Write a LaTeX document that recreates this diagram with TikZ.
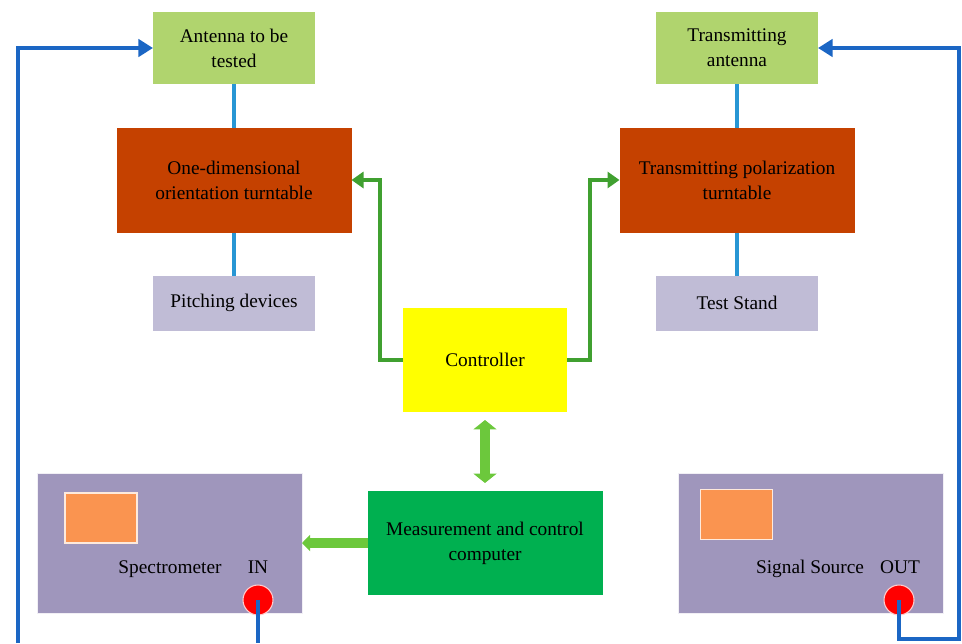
\documentclass[tikz,border=0pt]{standalone}
\usepackage{fontspec}
\setmainfont{Liberation Serif}
\usetikzlibrary{arrows.meta, positioning}
\definecolor{antgreen}{RGB}{176, 212, 110}
\definecolor{turnred}{RGB}{197, 65, 0}
\definecolor{standgrey}{RGB}{192, 188, 214}
\definecolor{compgreen}{RGB}{0, 176, 80}
\definecolor{instgrey}{RGB}{159, 150, 188}
\definecolor{screenorange}{RGB}{250, 148, 80}
\definecolor{feedblue}{RGB}{27, 102, 196}
\definecolor{linkblue}{RGB}{40, 150, 212}
\definecolor{ctrlgreen}{RGB}{64, 160, 48}
\definecolor{blockgreen}{RGB}{108, 200, 60}
\definecolor{ctrlyellow}{RGB}{255, 255, 0}

\begin{document}
\begin{tikzpicture}[
  x=0.75pt, y=-0.75pt,
  every node/.style={inner sep=0pt, outer sep=0pt, font=\fontsize{14.5}{18.8}\selectfont, align=center},
  antbox/.style={fill=antgreen, minimum width=121.5pt, minimum height=54pt},
  turnbox/.style={fill=turnred, minimum width=176.25pt, minimum height=78.75pt},
  standbox/.style={fill=standgrey, minimum width=121.5pt, minimum height=41.25pt},
  instbox/.style={fill=instgrey, draw=white!85!instgrey, minimum width=198.75pt, minimum height=105pt},
  screen/.style={fill=screenorange, draw=white!80!screenorange, line width=0.8pt, minimum width=54pt, minimum height=37.5pt},
  port/.style={circle, fill=red, draw=white!80!red, line width=0.8pt, minimum size=22.5pt},
  link/.style={draw=linkblue, line width=3pt},
  feed/.style={draw=feedblue, line width=3pt, -{Triangle[length=11pt, width=13pt]}},
  ctrlarrow/.style={draw=ctrlgreen, line width=2.8pt, -{Triangle[length=9pt, width=12pt]}},
  blockarrow/.style={draw=blockgreen, line width=8pt}
]
  \useasboundingbox (0,0) rectangle (962,643);

  % receiving side
  \node[antbox] (aut) at (234, 48) {Antenna to be\\tested};
  \node[turnbox] (turn) at (234, 180) {One-dimensional\\orientation turntable};
  \node[standbox] (pitch) at (234, 303) {Pitching devices};

  % transmitting side
  \node[antbox] (txant) at (737, 48) {Transmitting\\antenna};
  \node[turnbox] (pol) at (737, 180) {Transmitting polarization\\turntable};
  \node[standbox] (stand) at (737, 303) {Test Stand};

  % control
  \node[fill=ctrlyellow, minimum width=123pt, minimum height=78pt] (ctrl) at (485, 360) {Controller};
  \node[fill=compgreen, minimum width=176.25pt, minimum height=78pt] (comp) at (485, 543) {Measurement and control\\computer};

  % instruments
  \node[instbox] (spec) at (169.5, 543) {};
  \node[screen] (specscreen) at (101, 518) {};
  \node (speclabel) at (170, 569) {Spectrometer};
  \node (inlabel) at (258, 567) {IN};
  \node[port] (inport) at (258, 600) {};

  \node[instbox] (src) at (810.5, 543) {};
  \node[screen] (srcscreen) at (736.5, 514.5) {};
  \node (srclabel) at (810, 569) {Signal Source};
  \node (outlabel) at (900, 567) {OUT};
  \node[port] (outport) at (899, 600) {};

  % mechanical links
  \draw[link] (aut.south) -- (turn.north);
  \draw[link] (turn.south) -- (pitch.north);
  \draw[link] (txant.south) -- (pol.north);
  \draw[link] (pol.south) -- (stand.north);

  % controller to turntables
  \draw[ctrlarrow] (ctrl.west) -- ++(-23, 0) |- (turn.east);
  \draw[ctrlarrow] (ctrl.east) -- ++(23, 0) |- (pol.west);

  % computer links
  \draw[blockarrow, {Triangle[length=7pt, width=17pt]}-{Triangle[length=7pt, width=17pt]}, shorten <=6pt, shorten >=6pt] (ctrl.south) -- (comp.north);
  \draw[blockarrow, -{Triangle[length=6pt, width=12pt]}] (comp.west) -- (spec.east);

  % RF feed lines
  \coordinate (feedL) at (18, 643);
  \coordinate (feedR) at (959, 639);
  \draw[feed] (feedL) |- (aut.west);
  \draw[feed, -] (inport.center) -- (inport.center |- feedL);
  \draw[feed] (outport.center) |- (feedR) |- (txant.east);
\end{tikzpicture}
\end{document}
